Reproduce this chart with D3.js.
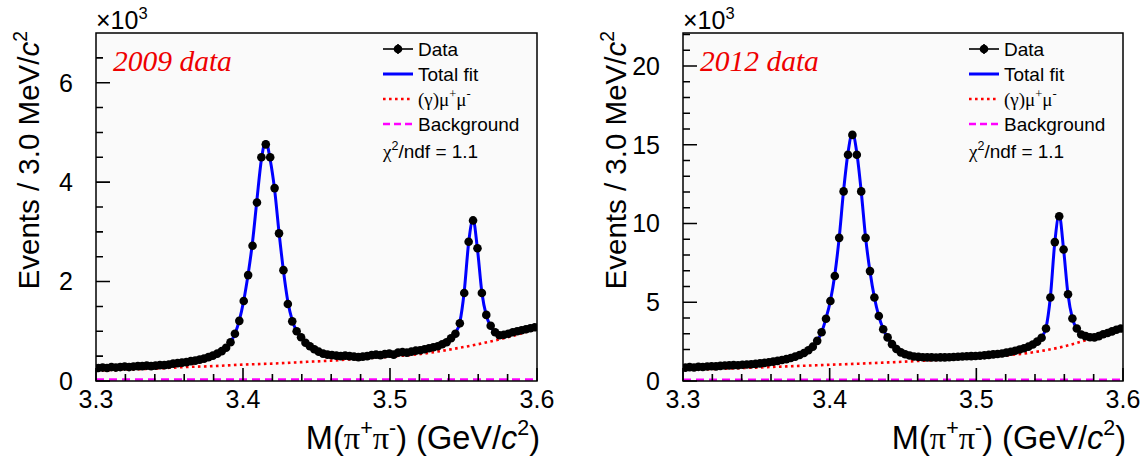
<!DOCTYPE html>
<html><head><meta charset="utf-8">
<script src="https://cdn.jsdelivr.net/npm/d3@7"></script>
<style>
html,body{margin:0;padding:0;background:#fff;}
svg{display:block;font-family:"Liberation Sans",Arial,Helvetica,sans-serif;}
</style></head><body>
<svg id="c" width="1143" height="462"></svg>
<script>
// ---------------- data ----------------
const binLo = 3.3, binWidth = 0.003, nBins = 100;
const xTickLabels = [3.3, 3.4, 3.5, 3.6];
const yTicks2009 = [0, 2, 4, 6];
const yTicks2012 = [0, 5, 10, 15, 20];
const panelLabels = ["2009 data", "2012 data"];

// events per bin (x10^3), bin centres 3.3015 ... 3.5985
const data2009 = [
0.26,0.27,0.26,0.28,0.27,0.28,0.29,0.28,0.29,0.30,
0.30,0.31,0.30,0.31,0.32,0.32,0.33,0.35,0.36,0.37,
0.38,0.40,0.41,0.43,0.45,0.48,0.51,0.55,0.60,0.67,
0.78,0.95,1.21,1.61,2.13,2.72,3.59,4.50,4.76,4.50,
3.88,2.97,2.23,1.55,1.20,1.00,0.88,0.77,0.70,0.64,
0.59,0.55,0.53,0.52,0.51,0.50,0.51,0.50,0.49,0.48,
0.49,0.50,0.52,0.53,0.52,0.54,0.55,0.53,0.57,0.58,
0.57,0.59,0.61,0.62,0.64,0.66,0.68,0.70,0.74,0.78,
0.86,0.95,1.16,1.77,2.80,3.23,2.67,1.77,1.33,1.11,
0.98,0.92,0.93,0.95,0.98,1.00,1.02,1.04,1.06,1.08];
const fit2009 = [
0.27,0.27,0.27,0.28,0.28,0.28,0.28,0.29,0.29,0.29,
0.30,0.30,0.31,0.31,0.32,0.32,0.33,0.34,0.35,0.36,
0.38,0.39,0.41,0.43,0.45,0.48,0.51,0.55,0.60,0.67,
0.78,0.95,1.22,1.62,2.15,2.80,3.65,4.45,4.82,4.45,
3.85,2.99,2.22,1.60,1.22,1.00,0.87,0.77,0.70,0.64,
0.60,0.56,0.54,0.52,0.51,0.50,0.50,0.50,0.50,0.50,
0.50,0.51,0.51,0.52,0.53,0.53,0.54,0.55,0.56,0.57,
0.58,0.59,0.61,0.62,0.64,0.66,0.68,0.71,0.74,0.79,
0.87,0.97,1.18,1.80,2.78,3.25,2.65,1.78,1.32,1.10,
0.98,0.94,0.94,0.96,0.98,1.00,1.02,1.04,1.06,1.08];
const data2012 = [
0.85,0.88,0.86,0.90,0.89,0.92,0.94,0.93,0.96,0.98,
0.99,1.01,1.00,1.03,1.05,1.06,1.09,1.12,1.15,1.19,
1.23,1.28,1.33,1.39,1.46,1.55,1.65,1.78,1.95,2.18,
2.55,3.10,3.95,5.08,6.67,9.09,12.04,14.37,15.63,14.37,
12.04,9.09,6.98,5.30,4.13,3.29,2.77,2.34,2.03,1.82,
1.70,1.62,1.56,1.53,1.51,1.50,1.50,1.49,1.50,1.50,
1.51,1.52,1.54,1.56,1.57,1.58,1.59,1.60,1.63,1.66,
1.69,1.71,1.75,1.80,1.86,1.92,2.00,2.08,2.18,2.32,
2.50,2.75,3.33,5.30,8.82,10.46,8.35,5.51,3.97,3.33,
2.95,2.85,2.78,2.77,2.85,2.97,3.05,3.15,3.25,3.33];
const fit2012 = [
0.86,0.87,0.88,0.89,0.90,0.92,0.93,0.94,0.96,0.97,
0.99,1.00,1.02,1.03,1.05,1.07,1.09,1.12,1.15,1.19,
1.23,1.28,1.33,1.39,1.46,1.55,1.65,1.78,1.95,2.18,
2.55,3.10,3.98,5.10,6.75,9.10,12.10,14.50,15.75,14.50,
12.05,9.10,6.95,5.30,4.12,3.30,2.76,2.34,2.04,1.83,
1.70,1.62,1.56,1.53,1.51,1.50,1.50,1.50,1.50,1.51,
1.51,1.52,1.54,1.55,1.57,1.58,1.60,1.62,1.64,1.66,
1.69,1.72,1.75,1.80,1.85,1.92,2.00,2.08,2.19,2.33,
2.52,2.78,3.38,5.35,8.80,10.55,8.35,5.50,3.98,3.32,
2.96,2.83,2.78,2.79,2.85,2.95,3.05,3.15,3.25,3.33];

// fit components sampled on a coarse mass grid
const compGrid = [3.30,3.32,3.34,3.36,3.38,3.40,3.42,3.44,3.46,3.48,3.50,3.52,3.54,3.56,3.58,3.60];
const mumu2009 = [0.21,0.23,0.25,0.28,0.30,0.33,0.35,0.38,0.41,0.45,0.49,0.54,0.63,0.74,0.88,1.05];
const bkg2009  = [0.03,0.03,0.03,0.03,0.03,0.03,0.03,0.03,0.03,0.03,0.03,0.03,0.03,0.03,0.03,0.03];
const mumu2012 = [0.70,0.76,0.82,0.89,0.96,1.03,1.10,1.18,1.27,1.37,1.48,1.62,1.84,2.20,2.75,3.28];
const bkg2012  = [0.08,0.08,0.08,0.08,0.08,0.08,0.08,0.08,0.08,0.08,0.08,0.08,0.08,0.08,0.08,0.08];

const chi2Values = ["1.1", "1.1"];

// ---------------- drawing ----------------
const svg = d3.select("#c");
const SERIF = "'Liberation Serif','Times New Roman',serif";
const SANS = "'Liberation Sans',Arial,sans-serif";

function rich(textSel, parts, size) {
  let shift = 0;
  parts.forEach(p => {
    const ts = textSel.append("tspan").text(p.t);
    const target = p.sup ? -0.42 * size : 0;
    ts.attr("dy", target - shift);
    shift = target;
    if (p.sup) ts.attr("font-size", size * 0.66);
    if (p.it) ts.attr("font-style", "italic");
    if (p.serif) ts.attr("font-family", SERIF);
  });
}

function panel(o) {
  const g = svg.append("g");
  const x = d3.scaleLinear().domain([binLo, binLo + nBins * binWidth]).range([o.left, o.right]);
  const y = d3.scaleLinear().domain([0, o.ymax]).range([o.bottom, o.top]);
  const clipId = "clip" + o.id;
  svg.append("clipPath").attr("id", clipId).append("rect")
    .attr("x", o.left).attr("y", o.top).attr("width", o.right - o.left).attr("height", o.bottom - o.top);

  g.append("rect").attr("x", o.left).attr("y", o.top)
    .attr("width", o.right - o.left).attr("height", o.bottom - o.top)
    .attr("fill", "#fafafa");

  const centers = d3.range(nBins).map(i => binLo + (i + 0.5) * binWidth);

  // components
  const comp = d3.line().x((d, i) => x(compGrid[i])).y(d => y(d)).curve(d3.curveMonotoneX);
  const cg = g.append("g").attr("clip-path", `url(#${clipId})`);
  cg.append("path").attr("d", comp(o.bkg)).attr("fill", "none")
    .attr("stroke", "#ff00ff").attr("stroke-width", 2.5).attr("stroke-dasharray", "8,5");
  cg.append("path").attr("d", comp(o.mumu)).attr("fill", "none")
    .attr("stroke", "#ff0000").attr("stroke-width", 2.6).attr("stroke-dasharray", "2.6,3.4");
  // total fit
  const fl = d3.line().x((d, i) => x(centers[i])).y(d => y(d)).curve(d3.curveMonotoneX);
  cg.append("path").attr("d", fl(o.fit)).attr("fill", "none")
    .attr("stroke", "#0000ff").attr("stroke-width", 3);
  // data points
  cg.selectAll("circle.d").data(o.data).join("circle")
    .attr("cx", (d, i) => x(centers[i])).attr("cy", d => y(d)).attr("r", 4.3).attr("fill", "#000");

  // ticks (inside the frame), drawn from the scales as one path
  const xMinor = d3.range(0, 16).map(i => +(3.3 + i * 0.02).toFixed(3));
  const yMinor = d3.range(0, o.ymax, o.minorStep);
  const tp = d3.path();
  xMinor.forEach(d => { tp.moveTo(x(d), o.bottom); tp.lineTo(x(d), o.bottom - 7); });
  xTickLabels.forEach(d => { tp.moveTo(x(d), o.bottom); tp.lineTo(x(d), o.bottom - 13); });
  yMinor.forEach(d => { tp.moveTo(o.left, y(d)); tp.lineTo(o.left + 7, y(d)); });
  o.yTicks.forEach(d => { tp.moveTo(o.left, y(d)); tp.lineTo(o.left + 14, y(d)); });
  g.append("path").attr("d", tp.toString()).attr("fill", "none")
    .attr("stroke", "#000").attr("stroke-width", 1.6);

  // tick labels
  g.selectAll("text.xl").data(xTickLabels).join("text")
    .attr("x", d => x(d)).attr("y", o.bottom + 27).attr("text-anchor", "middle")
    .attr("font-size", 25).attr("font-family", SANS).text(d => d3.format(".1f")(d));
  g.selectAll("text.yl").data(o.yTicks).join("text")
    .attr("x", o.left - 23).attr("y", d => y(d) + 8.8).attr("text-anchor", "end")
    .attr("font-size", 25).attr("font-family", SANS).text(d => d);

  // frame
  g.append("rect").attr("x", o.left).attr("y", o.top)
    .attr("width", o.right - o.left).attr("height", o.bottom - o.top)
    .attr("fill", "none").attr("stroke", "#000").attr("stroke-width", 1.5);

  // x10^3
  rich(g.append("text").attr("x", o.left).attr("y", 29).attr("font-size", 25).attr("fill", "#000"),
    [{t: "×10"}, {t: "3", sup: true}], 25);

  // axis titles
  rich(g.append("text").attr("text-anchor", "end")
      .attr("transform", `translate(${o.left - 57},${o.top - 2}) rotate(-90)`)
      .attr("font-size", 29.5).attr("fill", "#000"),
    [{t: "Events / 3.0 MeV/"}, {t: "c", it: true}, {t: "2", sup: true}], 29.5);
  rich(g.append("text").attr("text-anchor", "end").attr("x", o.right + 3).attr("y", 449)
      .attr("font-size", 32.5).attr("fill", "#000"),
    [{t: "M("}, {t: "π", serif: true}, {t: "+", sup: true}, {t: "π", serif: true}, {t: "-", sup: true},
     {t: ") (GeV/"}, {t: "c", it: true}, {t: "2", sup: true}, {t: ")"}], 32.5);

  // panel label
  g.append("text").attr("x", o.left + 17).attr("y", 71).attr("font-family", SERIF)
    .attr("font-style", "italic").attr("font-size", 29.5).attr("fill", "#ee0000").text(o.label);

  // legend
  const lx0 = o.right - 154, lx1 = o.right - 124, tx = o.right - 119;
  const rows = [49, 74, 99, 124];
  const lg = g.append("g");
  lg.append("line").attr("x1", lx0).attr("x2", lx1).attr("y1", rows[0]).attr("y2", rows[0])
    .attr("stroke", "#000").attr("stroke-width", 1.6);
  lg.append("line").attr("x1", (lx0 + lx1) / 2).attr("x2", (lx0 + lx1) / 2)
    .attr("y1", rows[0] - 5).attr("y2", rows[0] + 5).attr("stroke", "#000").attr("stroke-width", 1.6);
  lg.append("circle").attr("cx", (lx0 + lx1) / 2).attr("cy", rows[0]).attr("r", 4.3).attr("fill", "#000");
  lg.append("line").attr("x1", lx0).attr("x2", lx1).attr("y1", rows[1]).attr("y2", rows[1])
    .attr("stroke", "#0000ff").attr("stroke-width", 3);
  lg.append("line").attr("x1", lx0).attr("x2", lx1).attr("y1", rows[2]).attr("y2", rows[2])
    .attr("stroke", "#ff0000").attr("stroke-width", 2.6).attr("stroke-dasharray", "2.6,3.4");
  lg.append("line").attr("x1", lx0).attr("x2", lx1).attr("y1", rows[3]).attr("y2", rows[3])
    .attr("stroke", "#ff00ff").attr("stroke-width", 2.6).attr("stroke-dasharray", "7,4");
  const fs = 19;
  const off = 6.8;
  lg.append("text").attr("x", tx).attr("y", rows[0] + off).attr("font-size", fs).text("Data");
  lg.append("text").attr("x", tx).attr("y", rows[1] + off).attr("font-size", fs).text("Total fit");
  rich(lg.append("text").attr("x", tx).attr("y", rows[2] + off).attr("font-size", fs).attr("font-family", SERIF),
    [{t: "(γ)μ"}, {t: "+", sup: true}, {t: "μ"}, {t: "-", sup: true}], fs);
  lg.append("text").attr("x", tx).attr("y", rows[3] + off).attr("font-size", fs).text("Background");
  rich(lg.append("text").attr("x", lx0).attr("y", 151 + off).attr("font-size", fs),
    [{t: "χ", serif: true}, {t: "2", sup: true}, {t: "/ndf = " + o.chi2}], fs);
}

panel({id: "a", left: 96, right: 537, top: 33, bottom: 381, ymax: 7.0, minorStep: 0.5,
  yTicks: yTicks2009, data: data2009, fit: fit2009, mumu: mumu2009, bkg: bkg2009,
  label: panelLabels[0], chi2: chi2Values[0]});
panel({id: "b", left: 683, right: 1123, top: 33, bottom: 381, ymax: 22.1, minorStep: 1,
  yTicks: yTicks2012, data: data2012, fit: fit2012, mumu: mumu2012, bkg: bkg2012,
  label: panelLabels[1], chi2: chi2Values[1]});
</script>
</body></html>
